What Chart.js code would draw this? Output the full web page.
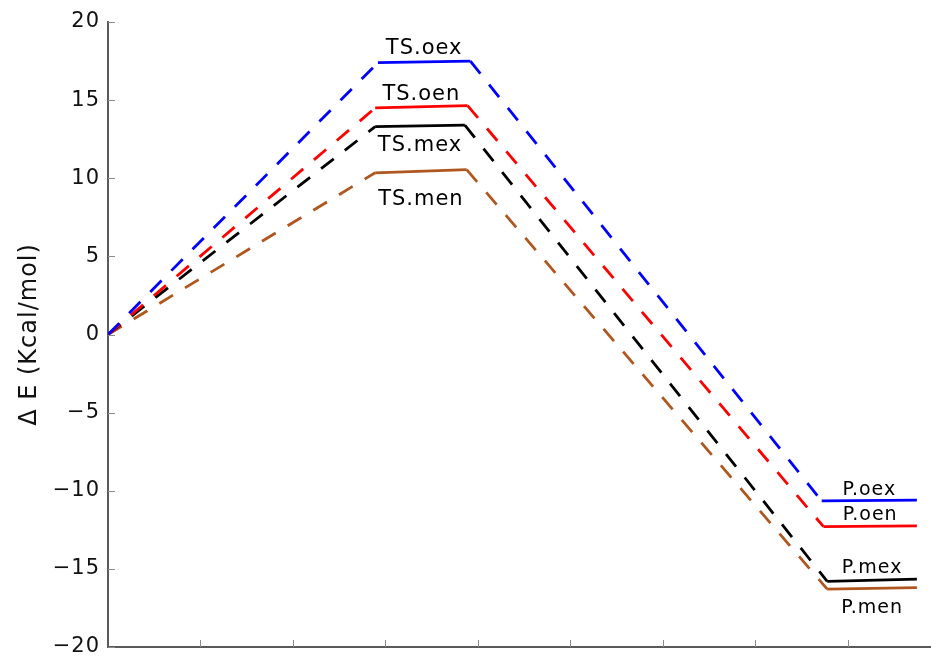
<!DOCTYPE html>
<html>
<head>
<meta charset="utf-8">
<script src="https://cdn.jsdelivr.net/npm/chart.js@4/dist/chart.umd.min.js"></script>
<style>
  html, body { margin: 0; padding: 0; background: #fff; width: 931px; height: 660px; overflow: hidden; }
  #wrap { position: relative; width: 940px; height: 660px; }
</style>
</head>
<body>
<div id="wrap"><canvas id="c"></canvas></div>
<script>
// ---- data ----
const seriesNames = ['oex', 'oen', 'mex', 'men'];
const tsStartX = [2.92, 2.89, 2.89, 2.89];
const tsEndX   = [3.92, 3.89, 3.86, 3.88];
const tsStartE = [17.4, 14.5, 13.3, 10.35];
const tsEndE   = [17.5, 14.65, 13.4, 10.55];
const pStartX  = [7.72, 7.74, 7.78, 7.78];
const pEndX    = [8.75, 8.75, 8.75, 8.75];
const pStartE  = [-10.65, -12.3, -15.8, -16.3];
const pEndE    = [-10.6, -12.25, -15.65, -16.2];
const tsLabels = ['TS.oex', 'TS.oen', 'TS.mex', 'TS.men'];
const pLabels  = ['P.oex', 'P.oen', 'P.mex', 'P.men'];
const yTickLabels = ['\u221220', '\u221215', '\u221210', '\u22125', '0', '5', '10', '15', '20'];
const xTickValues = [1, 2, 3, 4, 5, 6, 7, 8];
const yTitle = '\u0394 E (Kcal/mol)';

// ---- styles ----
const colors = ['#0000ff', '#ff0000', '#000000', '#b0561f'];
const tsLabelOffsetPx = [-13, -12, 20, 28];
const pLabelOffsetPx  = [-10, -11, -12, 20];
const FONT = "'DejaVu Sans', sans-serif";

const datasets = seriesNames.map((n, i) => ({
  label: n,
  data: [
    {x: 0, y: 0},
    {x: tsStartX[i], y: tsStartE[i]},
    {x: tsEndX[i], y: tsEndE[i]},
    {x: pStartX[i], y: pStartE[i]},
    {x: pEndX[i], y: pEndE[i]}
  ],
  borderColor: colors[i],
  borderWidth: 2.8,
  pointRadius: 0,
  tension: 0,
  fill: false,
  segment: {
    borderDash: ctx => (ctx.p0DataIndex % 2 === 0 ? [16, 14] : [])
  }
}));

const decor = {
  id: 'decor',
  beforeDraw(chart) {
    chart.ctx.letterSpacing = '1px';
  },
  afterDraw(chart) {
    const ctx = chart.ctx;
    const xs = chart.scales.x, ys = chart.scales.y;
    const area = chart.chartArea;
    ctx.save();
    // inward tick marks
    ctx.strokeStyle = '#8a8a8a';
    ctx.lineWidth = 1;
    ctx.beginPath();
    ys.ticks.forEach(t => {
      const y = Math.round(ys.getPixelForValue(t.value)) + 0.5;
      ctx.moveTo(area.left, y);
      ctx.lineTo(area.left + 7, y);
    });
    xTickValues.forEach(v => {
      const x = Math.round(xs.getPixelForValue(v)) + 0.5;
      ctx.moveTo(x, area.bottom);
      ctx.lineTo(x, area.bottom - 7);
    });
    ctx.stroke();
    // state labels
    ctx.fillStyle = '#000';
    ctx.textAlign = 'center';
    ctx.textBaseline = 'middle';
    ctx.letterSpacing = '1px';
    ctx.font = '21px ' + FONT;
    tsLabels.forEach((txt, i) => {
      const x = xs.getPixelForValue((tsStartX[i] + tsEndX[i]) / 2);
      const y = ys.getPixelForValue((tsStartE[i] + tsEndE[i]) / 2) + tsLabelOffsetPx[i];
      ctx.fillText(txt, x, y);
    });
    ctx.font = '19px ' + FONT;
    pLabels.forEach((txt, i) => {
      const x = xs.getPixelForValue((pStartX[i] + pEndX[i]) / 2);
      const y = ys.getPixelForValue((pStartE[i] + pEndE[i]) / 2) + pLabelOffsetPx[i];
      ctx.fillText(txt, x, y);
    });
    ctx.restore();
  }
};

new Chart(document.getElementById('c'), {
  type: 'line',
  data: { datasets },
  options: {
    responsive: true,
    maintainAspectRatio: false,
    animation: false,
    layout: { padding: { top: 22, left: 0, right: 0, bottom: 0 } },
    plugins: { legend: { display: false }, tooltip: { enabled: false } },
    scales: {
      x: {
        type: 'linear', min: 0, max: 9,
        ticks: { display: false },
        grid: { display: false, drawTicks: false },
        border: { display: true, color: '#5a5a5a', width: 2 },
        afterFit: s => { s.height = 13; s.paddingLeft = 0; s.paddingRight = 0; }
      },
      y: {
        type: 'linear', min: -20, max: 20,
        ticks: {
          stepSize: 5,
          padding: 8,
          color: '#111',
          font: { family: FONT, size: 21 },
          callback: (v, i) => yTickLabels[i]
        },
        grid: { display: false, drawTicks: false },
        border: { display: true, color: '#5a5a5a', width: 2 },
        title: {
          display: true,
          text: yTitle,
          color: '#111',
          font: { family: FONT, size: 24 },
          padding: { top: 15, bottom: 0 }
        },
        afterFit: s => { s.width = 108; s.paddingTop = 0; s.paddingBottom = 0; }
      }
    }
  },
  plugins: [decor]
});
</script>
</body>
</html>
